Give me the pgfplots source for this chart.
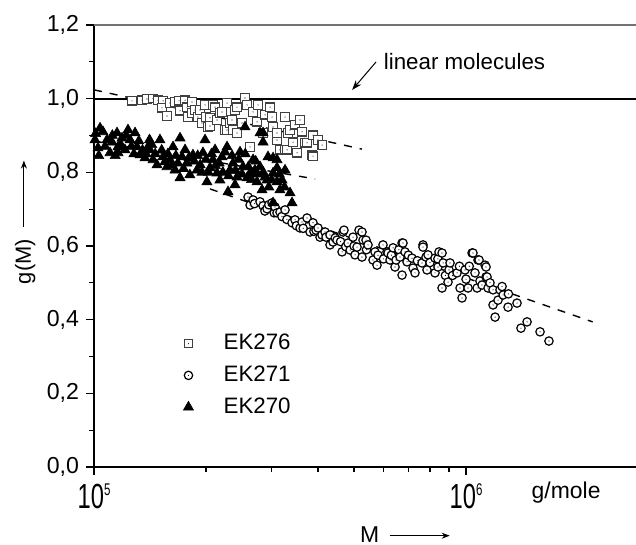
\documentclass[border=0pt]{standalone}
\usepackage{fontspec}
\setmainfont{Liberation Sans}
\usepackage{pgfplots}
\pgfplotsset{compat=1.18}
\usetikzlibrary{arrows.meta}

\pgfdeclareplotmark{sqdot}{%
  \pgfpathrectangle{\pgfqpoint{-\pgfplotmarksize}{-\pgfplotmarksize}}{\pgfqpoint{2\pgfplotmarksize}{2\pgfplotmarksize}}%
  \pgfusepathqfillstroke
  \pgfscope\pgfsetfillcolor{black}\pgfpathcircle{\pgfpointorigin}{0.3bp}\pgfusepathqfill\endpgfscope}
\pgfdeclareplotmark{cdot}{%
  \pgfpathcircle{\pgfpointorigin}{\pgfplotmarksize}%
  \pgfusepathqfillstroke
  \pgfscope\pgfsetfillcolor{black}\pgfpathcircle{\pgfpointorigin}{0.3bp}\pgfusepathqfill\endpgfscope}

\newcommand\tenp[1]{\scalebox{0.68}[1]{{\fontsize{17.5}{18}\selectfont 10}\raisebox{6.5bp}{\fontsize{8.5}{8.5}\selectfont #1}}}

\begin{document}
\begin{tikzpicture}
\begin{axis}[name=ax,
  scale only axis, width=271bp, height=221bp,
  xmode=log, xmin=1e5, xmax=2.864e6, ymin=0, ymax=1.2,
  axis lines*=left,
  axis line style={line width=0.65bp},
  tick align=outside,
  major tick length=4bp, minor tick length=2.5bp,
  tick style={black, line width=0.6bp},
  xtick={1e5,1e6}, xticklabels={\tenp{5},\tenp{6}},
  ytick={0,0.2,...,1.2}, minor ytick={0.1,0.3,...,1.1},
  yticklabel style={font=\fontsize{11.6}{12}\selectfont, /pgf/number format/.cd, fixed, fixed zerofill, precision=1, use comma, assume math mode=true},
  xticklabel style={yshift=-1bp},
  ylabel={g(M)\hspace{6bp}\tikz[baseline=-0.6ex]\draw[-{Stealth[length=4bp,width=3bp]},line width=0.45bp](0,0)--(33bp,0);},
  ylabel style={at={(axis description cs:-0.127,0.554)}, anchor=center, font=\fontsize{11}{12}\selectfont},
  xlabel={M\hspace{5bp}\tikz[baseline=-0.6ex]\draw[-{Stealth[length=4bp,width=3bp]},line width=0.45bp](0,0)--(30bp,0);},
  xlabel style={at={(axis description cs:0.574,-0.154)}, anchor=center, font=\fontsize{11.5}{12}\selectfont},
  legend style={draw=none, fill=none, at={(axis description cs:0.116,0.31)}, anchor=north west, font=\fontsize{11.2}{12}\selectfont, row sep=2.6bp, inner sep=0pt},
  legend cell align=left,
  legend image code/.code={\path[draw=none, fill=none] (0cm,0cm) rectangle (1.1cm,0.01cm); \draw[#1, only marks] plot coordinates {(0.55cm,0cm)};},
  clip=false,
]
% reference line for linear molecules
\addplot[black, line width=1bp, forget plot] coordinates {(1e5,1.0) (2.864e6,1.0)};
% fit lines
\addplot[black, dashed, dash pattern=on 4bp off 4bp, line width=0.7bp, forget plot] coordinates {(1e5,1.024) (5.25e5,0.863)};
\addplot[black, dashed, dash pattern=on 4bp off 4bp, line width=0.7bp, forget plot] coordinates {(1e5,0.885) (3.93e5,0.782)};
\addplot[black, dashed, dash pattern=on 4bp off 4bp, line width=0.7bp, forget plot] coordinates {(2.05e5,0.755) (2.19e6,0.394)};

% EK276
\addplot[only marks, mark=sqdot, mark size=2.1bp, mark options={draw=black!75, fill=white, line width=0.6bp}] coordinates {
(1.265e5,0.994) (1.346e5,0.996) (1.388e5,0.999) (1.441e5,1.000) (1.486e5,0.996) (1.533e5,0.994)
(1.523e5,0.975) (1.571e5,0.953) (1.600e5,0.988) (1.651e5,0.991) (1.703e5,0.967) (1.692e5,0.994)
(1.757e5,0.996) (1.778e5,0.977) (1.789e5,0.950) (1.834e5,0.991) (1.834e5,0.961) (1.868e5,0.969)
(1.903e5,0.950) (1.927e5,0.969) (1.951e5,0.934) (1.988e5,0.983) (2.000e5,0.950) (2.025e5,0.923)
(2.050e5,0.948) (2.050e5,0.926) (2.088e5,0.983) (2.115e5,0.977) (2.141e5,0.942) (2.182e5,0.961)
(2.208e5,0.964) (2.250e5,0.915) (2.278e5,0.988) (2.278e5,0.915) (2.320e5,0.934) (2.350e5,0.942)
(2.364e5,0.915) (2.393e5,0.969) (2.423e5,0.907) (2.423e5,0.977) (2.499e5,0.934) (2.546e5,1.002)
(2.578e5,0.983) (2.627e5,0.869) (2.676e5,0.964) (2.743e5,0.937) (2.760e5,0.983) (2.847e5,0.907)
(2.883e5,0.956) (2.973e5,0.977) (3.010e5,0.950) (3.029e5,0.923) (3.104e5,0.888) (3.104e5,0.907)
(3.160e5,0.861) (3.262e5,0.950) (3.262e5,0.861) (3.303e5,0.861) (3.323e5,0.907) (3.365e5,0.915)
(3.428e5,0.882) (3.470e5,0.929) (3.514e5,0.853) (3.580e5,0.942) (3.624e5,0.910) (3.692e5,0.880)
(3.738e5,0.880) (3.855e5,0.847) (3.879e5,0.901) (3.879e5,0.844) (4.000e5,0.888) (4.103e5,0.874)
};
\addlegendentry{EK276}
% EK271
\addplot[only marks, mark=cdot, mark size=2.1bp, mark options={draw=black, fill=white, line width=0.6bp}] coordinates {
(2.594e5,0.733) (2.627e5,0.711) (2.676e5,0.725) (2.700e5,0.715) (2.794e5,0.720) (2.847e5,0.709)
(2.880e5,0.695) (2.918e5,0.701) (2.950e5,0.712) (3.010e5,0.717) (3.050e5,0.690) (3.066e5,0.706)
(3.104e5,0.690) (3.162e5,0.692) (3.200e5,0.680) (3.262e5,0.698) (3.300e5,0.672) (3.406e5,0.663)
(3.470e5,0.671) (3.500e5,0.655) (3.580e5,0.649) (3.624e5,0.665) (3.650e5,0.648) (3.738e5,0.676)
(3.808e5,0.638) (3.879e5,0.663) (3.900e5,0.640) (3.952e5,0.643) (4.000e5,0.649) (4.050e5,0.624)
(4.100e5,0.630) (4.178e5,0.638) (4.205e5,0.624) (4.309e5,0.630) (4.309e5,0.603) (4.390e5,0.611)
(4.450e5,0.622) (4.500e5,0.616) (4.600e5,0.612) (4.642e5,0.584) (4.670e5,0.638) (4.699e5,0.643)
(4.750e5,0.598) (4.817e5,0.608) (4.880e5,0.589) (4.968e5,0.624) (5.000e5,0.600) (5.030e5,0.576)
(5.093e5,0.597) (5.157e5,0.643) (5.253e5,0.638) (5.286e5,0.616) (5.253e5,0.570) (5.385e5,0.616)
(5.400e5,0.590) (5.452e5,0.603) (5.623e5,0.562) (5.693e5,0.584) (5.764e5,0.548) (5.800e5,0.575)
(5.982e5,0.603) (6.000e5,0.565) (6.132e5,0.584) (6.170e5,0.581) (6.248e5,0.562) (6.300e5,0.575)
(6.366e5,0.595) (6.444e5,0.543) (6.485e5,0.562) (6.600e5,0.590) (6.646e5,0.570) (6.730e5,0.608)
(6.730e5,0.521) (6.770e5,0.608) (6.855e5,0.584) (6.940e5,0.557) (7.000e5,0.575) (7.158e5,0.567)
(7.203e5,0.540) (7.292e5,0.527) (7.400e5,0.560) (7.616e5,0.554) (7.663e5,0.603) (7.663e5,0.597)
(7.806e5,0.570) (7.855e5,0.535) (7.904e5,0.576) (8.000e5,0.555) (8.253e5,0.567) (8.253e5,0.527)
(8.400e5,0.565) (8.407e5,0.543) (8.460e5,0.584) (8.620e5,0.581) (8.620e5,0.486) (8.677e5,0.554)
(8.800e5,0.520) (8.945e5,0.502) (9.000e5,0.535) (9.057e5,0.554) (9.200e5,0.520) (9.459e5,0.527)
(9.600e5,0.545) (9.636e5,0.486) (9.755e5,0.459) (9.938e5,0.535) (1.000e6,0.510) (1.0125e6,0.486)
(1.020e6,0.545) (1.038e6,0.581) (1.044e6,0.581) (1.057e6,0.527) (1.071e6,0.486) (1.077e6,0.562)
(1.084e6,0.562) (1.090e6,0.505) (1.104e6,0.494) (1.125e6,0.548) (1.132e6,0.543) (1.132e6,0.516)
(1.139e6,0.516) (1.146e6,0.486) (1.160e6,0.500) (1.182e6,0.481) (1.182e6,0.440) (1.197e6,0.407)
(1.219e6,0.453) (1.234e6,0.481) (1.250e6,0.490) (1.258e6,0.467) (1.297e6,0.434) (1.300e6,0.470)
(1.371e6,0.445) (1.405e6,0.377) (1.459e6,0.394) (1.581e6,0.367) (1.671e6,0.342)
};
\addlegendentry{EK271}
% EK270
\addplot[only marks, mark=triangle*, mark size=2.9bp, mark options={draw=black, fill=black, line width=0.3bp}] coordinates {
(1.006e5,0.888) (1.010e5,0.905) (1.025e5,0.866) (1.030e5,0.845) (1.038e5,0.920) (1.057e5,0.910)
(1.070e5,0.870) (1.084e5,0.888) (1.104e5,0.853) (1.118e5,0.882) (1.120e5,0.900) (1.140e5,0.845)
(1.153e5,0.907) (1.160e5,0.869) (1.160e5,0.853) (1.180e5,0.875) (1.189e5,0.893) (1.211e5,0.861)
(1.220e5,0.900) (1.234e5,0.915) (1.250e5,0.888) (1.260e5,0.870) (1.280e5,0.850) (1.289e5,0.907)
(1.305e5,0.869) (1.320e5,0.885) (1.329e5,0.847) (1.350e5,0.860) (1.371e5,0.839) (1.380e5,0.850)
(1.397e5,0.869) (1.410e5,0.861) (1.410e5,0.888) (1.430e5,0.875) (1.441e5,0.834) (1.460e5,0.850)
(1.477e5,0.820) (1.504e5,0.888) (1.520e5,0.860) (1.533e5,0.842) (1.550e5,0.828) (1.571e5,0.815)
(1.580e5,0.850) (1.600e5,0.834) (1.620e5,0.820) (1.631e5,0.869) (1.651e5,0.806) (1.660e5,0.845)
(1.680e5,0.825) (1.703e5,0.893) (1.703e5,0.785) (1.724e5,0.842) (1.740e5,0.810) (1.757e5,0.861)
(1.778e5,0.825) (1.800e5,0.840) (1.810e5,0.793) (1.845e5,0.847) (1.860e5,0.830) (1.891e5,0.806)
(1.900e5,0.845) (1.930e5,0.820) (1.950e5,0.800) (1.963e5,0.853) (1.988e5,0.888) (2.000e5,0.835)
(2.012e5,0.774) (2.030e5,0.800) (2.050e5,0.812) (2.070e5,0.850) (2.088e5,0.834) (2.115e5,0.861)
(2.120e5,0.818) (2.141e5,0.798) (2.170e5,0.825) (2.180e5,0.779) (2.208e5,0.842) (2.220e5,0.800)
(2.250e5,0.855) (2.278e5,0.869) (2.292e5,0.747) (2.300e5,0.790) (2.320e5,0.806) (2.350e5,0.845)
(2.364e5,0.825) (2.393e5,0.766) (2.400e5,0.805) (2.423e5,0.787) (2.450e5,0.835) (2.469e5,0.855)
(2.500e5,0.795) (2.515e5,0.815) (2.546e5,0.923) (2.550e5,0.850) (2.578e5,0.785) (2.600e5,0.815)
(2.627e5,0.798) (2.650e5,0.780) (2.676e5,0.834) (2.708e5,0.806) (2.720e5,0.830) (2.743e5,0.774)
(2.750e5,0.795) (2.794e5,0.815) (2.794e5,0.907) (2.829e5,0.752) (2.847e5,0.907) (2.847e5,0.882)
(2.850e5,0.800) (2.883e5,0.787) (2.918e5,0.779) (2.936e5,0.842) (2.950e5,0.760) (3.000e5,0.780)
(3.029e5,0.798) (3.029e5,0.839) (3.029e5,0.717) (3.104e5,0.834) (3.104e5,0.774) (3.104e5,0.812)
(3.150e5,0.795) (3.160e5,0.752) (3.202e5,0.779) (3.250e5,0.760) (3.262e5,0.806) (3.365e5,0.744)
(3.406e5,0.717)
};
\addlegendentry{EK270}

% annotation
\draw[-{Stealth[length=5bp,width=3.5bp]}, line width=0.5bp] (axis cs:5.73e5,1.0997) -- (axis cs:4.94e5,1.0236);
\node[anchor=west, inner sep=0pt, font=\fontsize{11.2}{12}\selectfont] at (axis cs:6.0e5,1.10) {linear molecules};
\node[anchor=center, inner sep=0pt, font=\fontsize{11.5}{12}\selectfont] at (axis description cs:0.871,-0.057) {g/mole};
% top frame line
\draw[black!55, line width=0.6bp] (axis description cs:0,1) -- (axis description cs:1,1);
\end{axis}
\pgfresetboundingbox
\path[use as bounding box] (ax.south west) ++(-47bp,-39bp) rectangle ([yshift=12.5bp]ax.north east);
\end{tikzpicture}
\end{document}
